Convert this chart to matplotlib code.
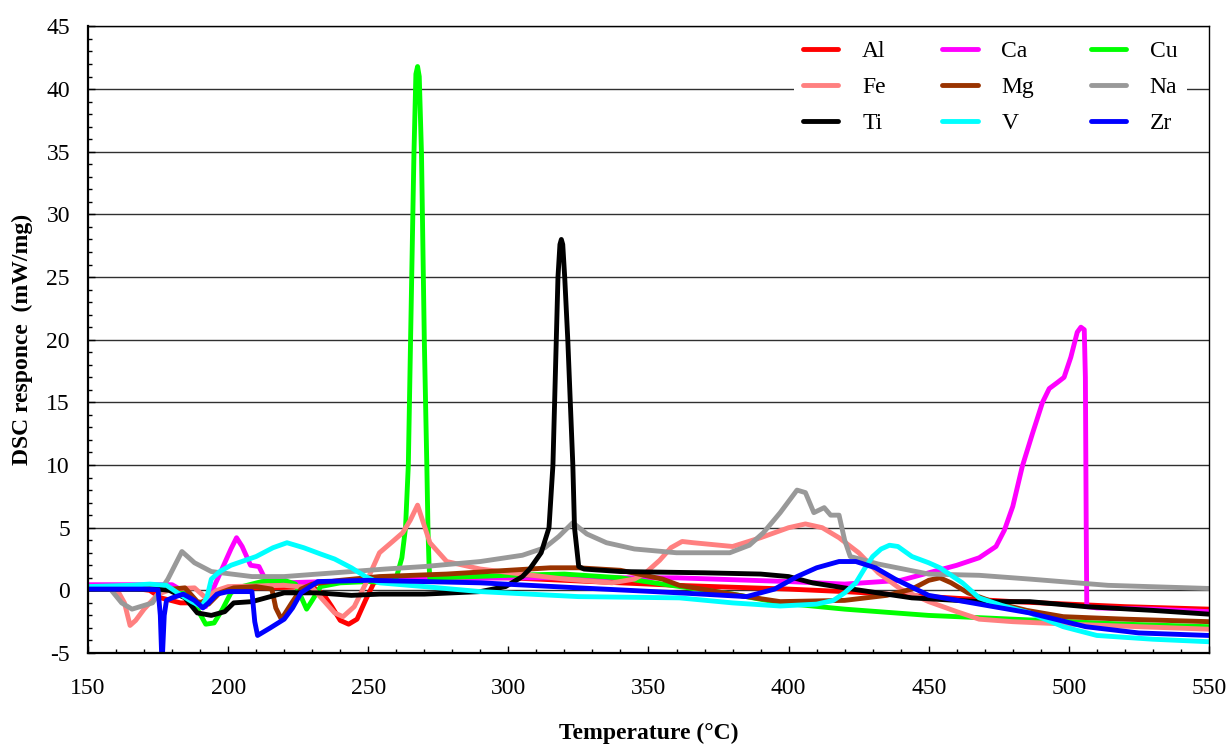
import matplotlib
matplotlib.use("Agg")
import matplotlib.pyplot as plt
from matplotlib.ticker import MultipleLocator

plt.rcParams['font.family'] = ['Liberation Serif', 'DejaVu Serif']
plt.rcParams['axes.unicode_minus'] = False

# DSC curves (temperature in C, response in mW/mg)
al_t = [150, 165, 172, 176, 183, 190, 196, 200, 215, 230, 234, 237, 240, 243, 246, 249, 252, 256, 270, 300, 330, 360, 400, 420, 450, 480, 500, 520, 550]
al_y = [0.3, 0.2, 0.0, -0.6, -1.0, -1.0, -0.3, 0.2, 0.2, 0.3, -0.3, -1.3, -2.4, -2.7, -2.3, -0.8, 0.6, 1.0, 1.1, 1.0, 0.7, 0.4, 0.1, -0.1, -0.5, -0.9, -1.1, -1.3, -1.5]

ca_t = [150, 180, 185, 188, 192, 195, 198, 201, 203, 205, 208, 211, 213, 216, 220, 250, 300, 360, 400, 420, 440, 450, 460, 468, 474, 477,
        480, 483.4, 487, 490.6, 493, 496, 498.3, 500.7, 503, 504.3, 505.5, 505.9, 506.2, 506.4, 510, 530, 550]
ca_y = [0.45, 0.45, -0.2, -1.4, -1.3, 0.3, 1.8, 3.3, 4.2, 3.5, 2.0, 1.9, 1.0, 0.6, 0.6, 0.8, 1.0, 1.0, 0.7, 0.5, 0.8, 1.4, 2.0, 2.6, 3.5, 4.8,
        6.7, 9.9, 12.5, 15.0, 16.1, 16.6, 17.0, 18.6, 20.6, 21.0, 20.8, 17.0, 5.0, -1.3, -1.4, -1.5, -1.7]

cu_t = [150, 180, 186, 189, 192, 195, 198, 201, 205, 212, 220, 224, 226, 228, 230, 233, 240, 250, 258, 260, 262, 263.3, 264.3, 265.1, 266.3,
        267.0, 267.6, 268.2, 269, 270, 270.9, 271.3, 271.7, 272, 275, 300, 320, 340, 355, 380, 397, 420, 450, 470, 490, 520, 550]
cu_y = [0.1, 0.1, -0.2, -1.5, -2.7, -2.6, -1.5, -0.2, 0.3, 0.7, 0.8, 0.5, -0.5, -1.5, -0.8, 0.3, 0.6, 0.7, 0.6, 1.0, 2.6, 5, 10, 20, 34.8,
        41.2, 41.8, 41.0, 34.8, 20, 10, 5, 2, 0.9, 1.0, 1.2, 1.3, 1.0, 0.5, -0.3, -1.0, -1.5, -2.0, -2.2, -2.4, -2.7, -2.9]

fe_t = [150, 160, 163, 165, 167, 170, 175, 180, 188, 192, 196, 200, 220, 230, 234, 238, 241, 245, 249, 254, 258.7, 262.3, 265, 267.6,
        269.5, 272, 278, 290, 301, 320, 337, 345, 349, 354, 358, 362, 366, 380, 390, 400, 406, 412, 418, 425, 432, 440, 450, 460, 468,
        480, 500, 525, 550]
fe_y = [0.3, 0.2, -1.0, -2.8, -2.4, -1.5, -0.3, 0.1, 0.2, -0.6, 0.0, 0.3, 0.4, 0.2, -0.8, -1.8, -2.1, -1.3, 0.5, 3.0, 3.9, 4.6, 5.6, 6.8,
        5.5, 3.8, 2.3, 1.7, 1.4, 0.9, 0.6, 0.9, 1.4, 2.4, 3.4, 3.9, 3.8, 3.5, 4.2, 5.0, 5.3, 5.0, 4.2, 3.0, 1.4, 0.1, -0.9, -1.7, -2.3,
        -2.5, -2.7, -2.9, -3.1]

mg_t = [150, 180, 184.6, 189, 193, 197, 202, 210, 215.6, 217, 219, 222.7, 226, 230, 240, 254, 278, 300, 315, 325, 340, 355, 361, 385, 397,
        420, 435, 444, 450, 454, 458, 464, 474, 485, 498, 520, 550]
mg_y = [0.1, 0.1, 0.2, -0.9, -1.1, -0.2, 0.2, 0.3, 0.1, -1.4, -2.3, -1.0, 0.1, 0.5, 0.8, 1.1, 1.3, 1.6, 1.8, 1.8, 1.6, 0.9, 0.4, -0.5, -0.9,
        -0.8, -0.4, 0.1, 0.8, 1.0, 0.6, -0.2, -1.0, -1.6, -2.1, -2.3, -2.5]

na_t = [150, 158, 162, 165.7, 173, 178.5, 183.5, 188, 194, 208.5, 220, 256, 270, 290, 305, 313, 318, 323, 328, 335, 345, 360, 379, 386, 391,
        397, 403, 406, 409, 412.7, 415, 418, 420, 422, 432, 450, 468, 486, 514, 550]
na_y = [0.15, 0.1, -1.0, -1.5, -1.0, 0.9, 3.1, 2.2, 1.5, 1.1, 1.1, 1.7, 1.9, 2.3, 2.8, 3.4, 4.3, 5.4, 4.5, 3.8, 3.3, 3.0, 3.0, 3.6, 4.6,
        6.2, 8.0, 7.8, 6.2, 6.6, 6.0, 6.0, 4.0, 2.7, 2.1, 1.3, 1.2, 0.9, 0.4, 0.15]

ti_t = [150, 175, 179, 184.6, 189, 194, 198.8, 202, 208.5, 220, 232, 244, 254, 270, 290, 299, 305, 307.6, 311.7, 314.5, 315.9, 316.5, 317.1,
        317.7, 318.4, 318.9, 319.4, 320.1, 321.2, 322.1, 323.0, 323.6, 325.1, 327, 340, 370, 390, 400, 408.5, 422.7, 444, 468, 486, 506,
        530, 550]
ti_y = [0.1, 0.1, 0.0, -0.6, -1.8, -2.0, -1.7, -1.0, -0.9, -0.2, -0.2, -0.4, -0.3, -0.3, -0.1, 0.3, 1.1, 1.7, 3.0, 5, 10, 15, 20,
        25, 27.6, 28, 27.6, 25, 20, 15, 10, 5, 1.9, 1.7, 1.5, 1.4, 1.3, 1.1, 0.6, 0.1, -0.6, -0.9, -0.9, -1.3,
        -1.6, -1.9]

v_t = [150, 165, 172, 178, 182, 187, 190.6, 192.5, 194, 197, 201, 210, 216, 221, 227, 233, 238, 244, 249, 254, 270, 290, 325, 361, 380,
       397, 410, 416, 420, 424, 427, 430, 433, 436, 439, 444, 450, 454, 462, 468, 476, 486, 498, 510, 530, 550]
v_y = [0.3, 0.4, 0.5, 0.4, -0.2, -0.9, -1.3, -0.5, 0.9, 1.5, 2.0, 2.7, 3.4, 3.8, 3.4, 2.9, 2.5, 1.8, 1.1, 0.6, 0.3, -0.1, -0.5, -0.6, -1.0,
       -1.25, -1.1, -0.8, -0.2, 0.6, 1.7, 2.7, 3.3, 3.6, 3.5, 2.7, 2.2, 1.8, 0.6, -0.6, -1.2, -1.8, -2.9, -3.6, -3.9, -4.1]

zr_t = [150, 170, 175, 175.8, 176.4, 177.2, 178, 180, 184, 188, 191, 193, 196, 200, 208.5, 209.5, 210.5, 215, 220, 223, 226, 232, 250,
        290, 325, 361, 385, 395, 403, 410, 418, 424, 431, 438, 450, 468, 486, 506, 525, 550]
zr_y = [0.1, 0.1, 0.05, -2, -6, -2, -0.8, -0.6, -0.3, -0.8, -1.4, -1.0, -0.3, -0.1, -0.1, -2.5, -3.6, -3.0, -2.3, -1.4, -0.2, 0.7, 0.8,
        0.6, 0.2, -0.2, -0.5, 0.1, 1.1, 1.8, 2.3, 2.3, 1.8, 0.9, -0.4, -1.1, -1.8, -2.9, -3.4, -3.6]

series = [
    ("Al", al_t, al_y, "#FF0000"),
    ("Ca", ca_t, ca_y, "#FF00FF"),
    ("Cu", cu_t, cu_y, "#00FF00"),
    ("Fe", fe_t, fe_y, "#FF8080"),
    ("Mg", mg_t, mg_y, "#993300"),
    ("Na", na_t, na_y, "#999999"),
    ("Ti", ti_t, ti_y, "#000000"),
    ("V", v_t, v_y, "#00FFFF"),
    ("Zr", zr_t, zr_y, "#0000FF"),
]

fig = plt.figure(figsize=(12.31, 7.44), dpi=100)
ax = fig.add_axes([0.0715, 0.1223, 0.9106, 0.8422])

lines = {}
for name, t, y, c in series:
    ln, = ax.plot(t, y, color=c, lw=3.5, label=name,
                  solid_joinstyle='round', solid_capstyle='round')
    lines[name] = ln

ax.set_xlim(150, 550)
ax.set_ylim(-5, 45)
ax.xaxis.set_major_locator(MultipleLocator(50))
ax.xaxis.set_minor_locator(MultipleLocator(10))
ax.yaxis.set_major_locator(MultipleLocator(5))
ax.yaxis.set_minor_locator(MultipleLocator(1))
ax.tick_params(which='both', direction='in', labelsize=17, colors='black')
ax.tick_params(which='major', length=5, width=1)
ax.tick_params(which='minor', length=3, width=1)
ax.tick_params(axis='x', pad=18)
ax.tick_params(axis='y', pad=13)
ax.grid(axis='y', which='major', color='#303030', lw=1.0)
ax.set_axisbelow(True)
for s in ['left', 'bottom']:
    ax.spines[s].set_linewidth(1.6)
for s in ['top', 'right']:
    ax.spines[s].set_linewidth(1.0)

ax.set_xlabel("Temperature (°C)", fontsize=17, fontweight='bold', va='center')
ax.xaxis.set_label_coords(0.5, -0.1277)
ax.set_ylabel("DSC responce  (mW/mg)", fontsize=17, fontweight='bold', va='center', ha='center')
ax.yaxis.set_label_coords(-0.0589, 0.5)

order = ["Al", "Fe", "Ti", "Ca", "Mg", "V", "Cu", "Na", "Zr"]
leg = ax.legend([lines[n] for n in order], order, ncol=3, fontsize=17,
                loc='upper left', bbox_to_anchor=(793.6 / 1231, 1 - 31 / 744),
                bbox_transform=fig.transFigure, borderaxespad=0,
                handlelength=1.5, handletextpad=1.0, labelspacing=0.62,
                columnspacing=2.4, borderpad=0.4, frameon=True, fancybox=False,
                framealpha=1, facecolor='white', edgecolor='none')

fig.savefig("out.png", dpi=100)
